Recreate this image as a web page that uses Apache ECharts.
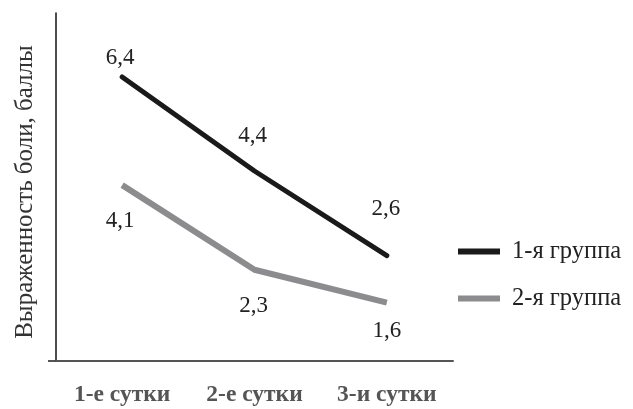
<!DOCTYPE html>
<html>
<head>
<meta charset="utf-8">
<script src="https://cdn.jsdelivr.net/npm/echarts@6/dist/echarts.min.js"></script>
<style>
html,body{margin:0;padding:0;background:#fff;}
#c{width:633px;height:409px;}
</style>
</head>
<body>
<div id="c"></div>
<script>
var categories = ['1-е сутки', '2-е сутки', '3-и сутки'];
var group1 = [6.4, 4.4, 2.6];
var group2 = [4.1, 2.3, 1.6];
var seriesNames = ['1-я группа', '2-я группа'];
var yAxisName = 'Выраженность боли, баллы';

// label placement (style only)
var labelOffsets1 = [[-2, -19], [-2, -35], [-1, -47]];
var labelOffsets2 = [[-2, 36], [-1, 36], [0, 28]];

function fmt(v) { return String(v).replace('.', ','); }
function build(values, offsets) {
  return values.map(function (v, i) {
    return { value: v, label: { offset: offsets[i] } };
  });
}

var serif = '"Liberation Serif", "DejaVu Serif", serif';
var chart = echarts.init(document.getElementById('c'), null, { renderer: 'canvas' });
chart.setOption({
  animation: false,
  backgroundColor: '#ffffff',
  grid: { left: 56, right: 180, top: 13, bottom: 48 },
  legend: {
    orient: 'vertical',
    left: 453,
    top: 234,
    itemWidth: 42,
    itemHeight: 6,
    itemGap: 22,
    icon: 'rect',
    data: seriesNames,
    textStyle: { fontFamily: serif, fontSize: 24.5, color: '#222', padding: [0, 0, 0, 7] }
  },
  xAxis: {
    type: 'category',
    data: categories,
    boundaryGap: true,
    axisLine: { lineStyle: { color: '#555', width: 2 } },
    axisTick: { show: false },
    axisLabel: { fontFamily: serif, fontSize: 23.5, fontWeight: 'bold', color: '#555', margin: 22 }
  },
  yAxis: {
    type: 'value',
    min: 0.36,
    max: 7.76,
    name: yAxisName,
    nameLocation: 'middle',
    nameRotate: 90,
    nameGap: 18,
    nameTextStyle: { fontFamily: serif, fontSize: 25, color: '#333', padding: [0, 0, 0, -10] },
    axisLine: { show: true, lineStyle: { color: '#111', width: 1.5 } },
    axisTick: { show: false },
    axisLabel: { show: false },
    splitLine: { show: false }
  },
  graphic: [{
    type: 'line',
    shape: { x1: 48, y1: 361, x2: 56, y2: 361 },
    style: { stroke: '#555', lineWidth: 2 }
  }],
  series: [{
    name: seriesNames[0],
    type: 'line',
    data: build(group1, labelOffsets1),
    symbol: 'circle',
    symbolSize: 0,
    showSymbol: true,
    lineStyle: { color: '#1a1a1a', width: 5, cap: 'round', join: 'round' },
    itemStyle: { color: '#1a1a1a' },
    label: {
      show: true, position: 'inside',
      formatter: function (p) { return fmt(p.value); },
      fontFamily: serif, fontSize: 23, color: '#222'
    }
  }, {
    name: seriesNames[1],
    type: 'line',
    data: build(group2, labelOffsets2),
    symbol: 'circle',
    symbolSize: 0,
    showSymbol: true,
    lineStyle: { color: '#8c8c8e', width: 6, cap: 'butt', join: 'round' },
    itemStyle: { color: '#8c8c8e' },
    label: {
      show: true, position: 'inside',
      formatter: function (p) { return fmt(p.value); },
      fontFamily: serif, fontSize: 23, color: '#222'
    }
  }]
});
</script>
</body>
</html>
